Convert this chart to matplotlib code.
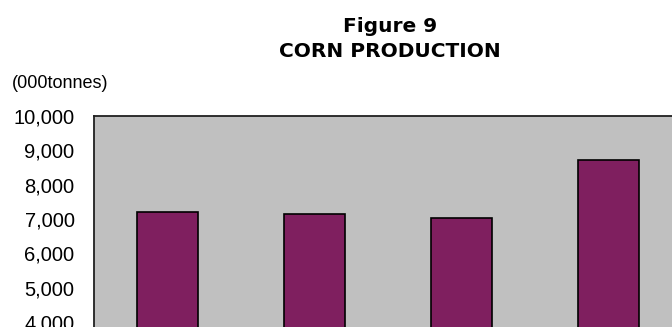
import numpy as np
import matplotlib.pyplot as plt

# corn production, 000 tonnes (x axis is cut off in the reference)
production = [7200, 7150, 7030, 8710]
y_ticks = [4000, 5000, 6000, 7000, 8000, 9000, 10000]

W, H = 672, 327
fig = plt.figure(figsize=(W / 100, H / 100), dpi=100)
fig.patch.set_facecolor('white')

# axes run past the bottom and right edge of the picture, as in the reference
left, right, top, bottom = 94, 682, 116, 459
ax = fig.add_axes([left / W, (H - bottom) / H, (right - left) / W, (bottom - top) / H])
ax.set_facecolor('#c0c0c0')

x = np.arange(len(production))
ax.bar(x, production, width=0.41, color='#7f1f5f', edgecolor='black', linewidth=1.2)

ax.set_xlim(-0.5, len(production) - 0.5)
ax.set_ylim(0, 10000)
ax.set_yticks(y_ticks)
ax.set_yticklabels(['{:,}'.format(v) for v in y_ticks], family='Liberation Sans', fontsize=14.5)
ax.tick_params(axis='y', length=0, pad=14)
ax.tick_params(axis='x', length=0, labelbottom=False)
for s in ax.spines.values():
    s.set_linewidth(1.3)
    s.set_color('#202020')

fig.text(390 / W, 1 - 39 / H, 'Figure 9\nCORN PRODUCTION', ha='center', va='center',
         fontsize=14.5, fontweight='bold', family='DejaVu Sans', linespacing=1.45)
fig.text(12 / W, 1 - 83 / H, '(000tonnes)', ha='left', va='center',
         fontsize=13, family='Liberation Sans')

fig.savefig('out.png', dpi=100)
